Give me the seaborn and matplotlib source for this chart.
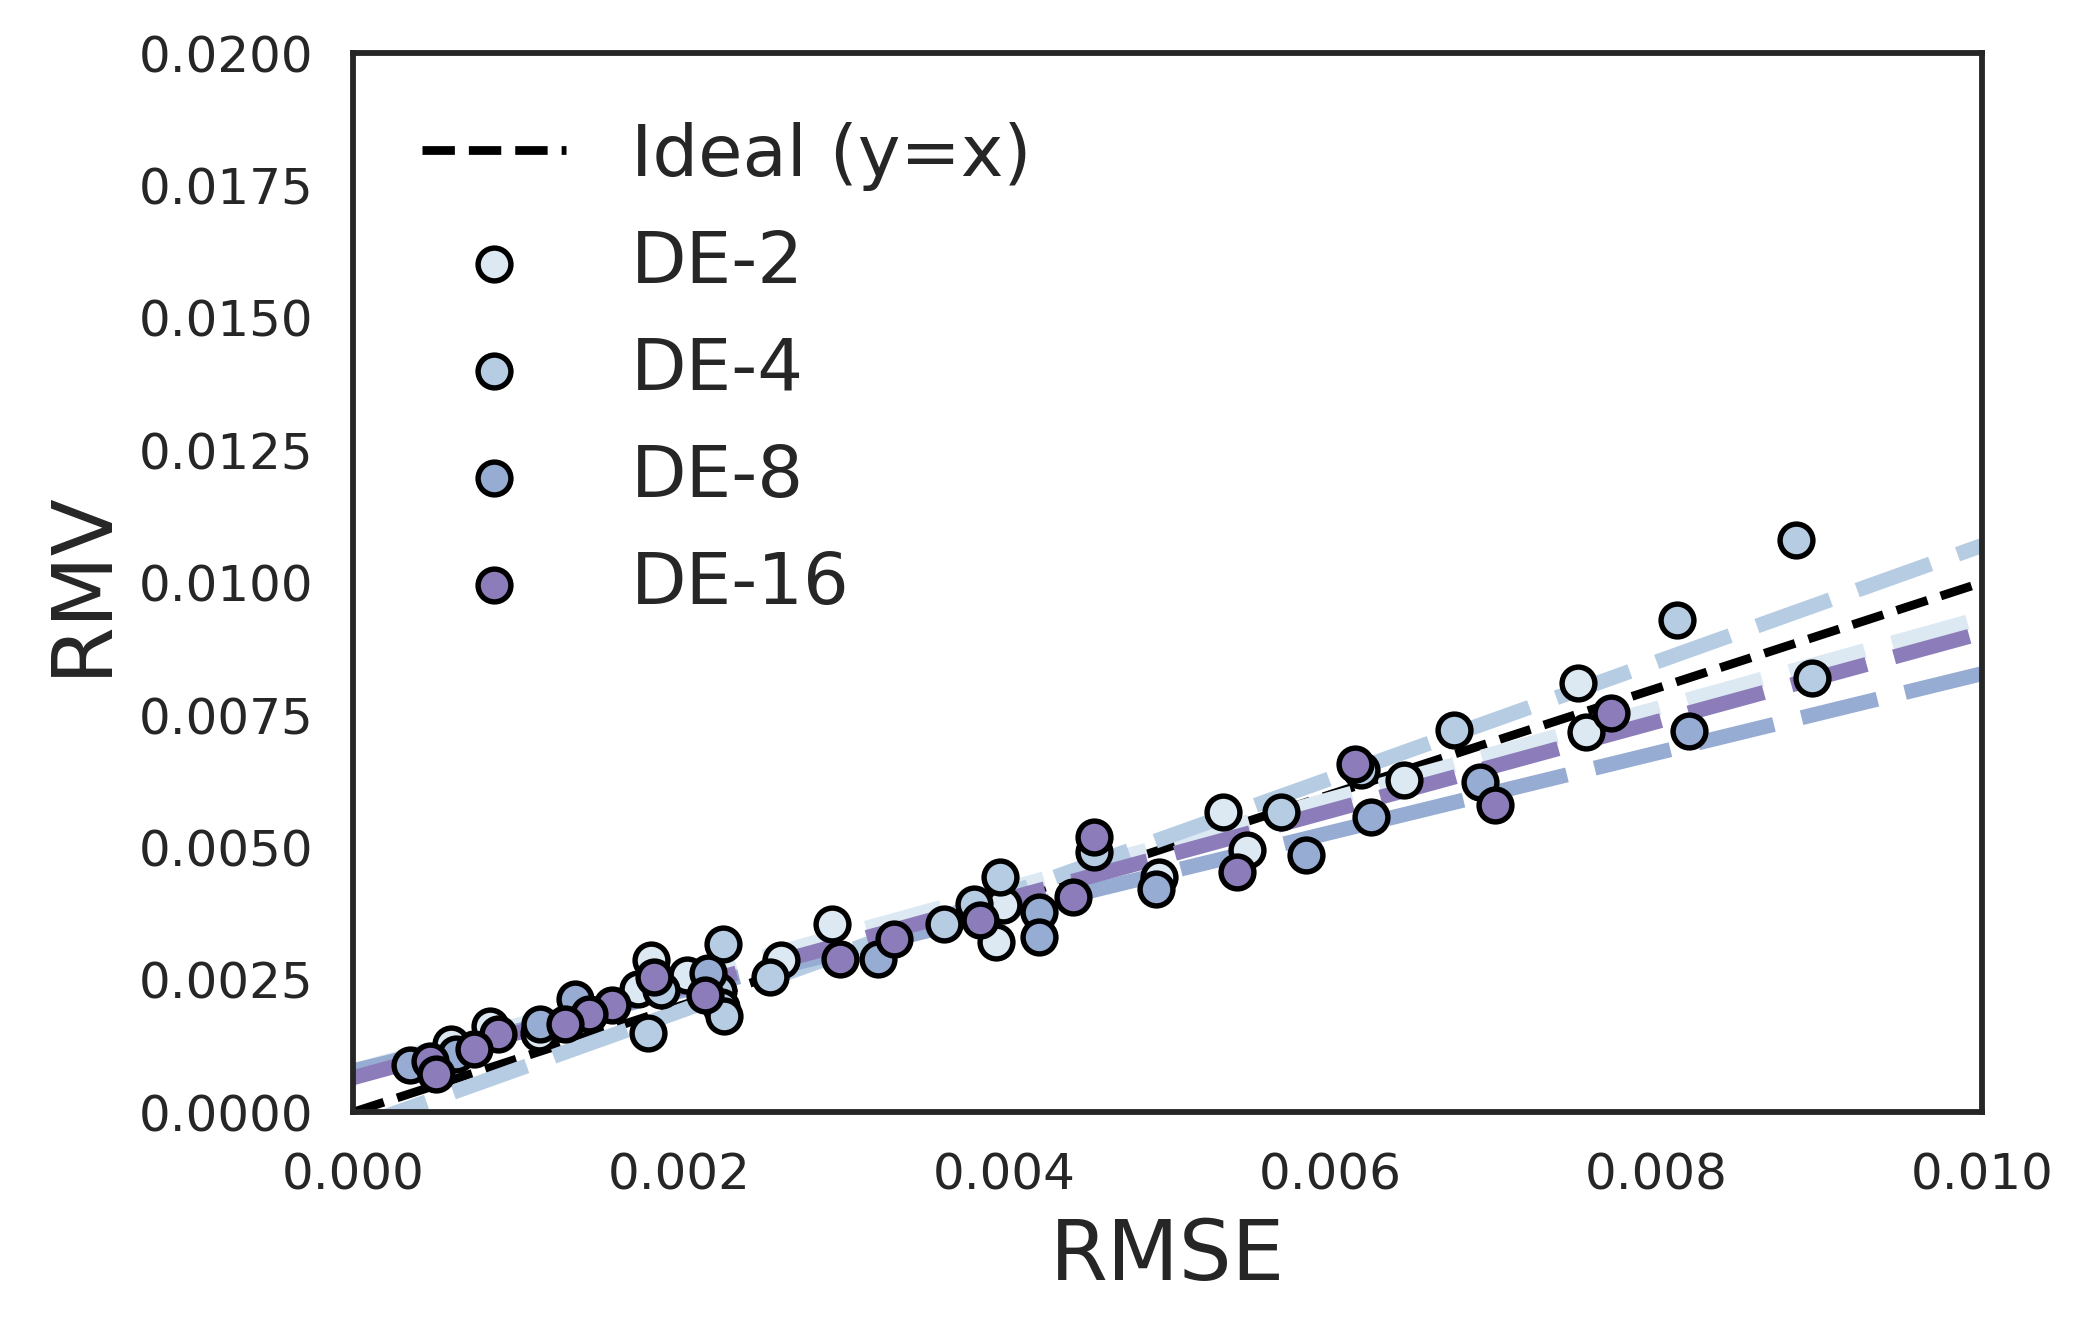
import numpy as np
import pandas as pd
import seaborn as sns
from matplotlib import pyplot as plt

models = ["DE-2", "DE-4", "DE-8", "DE-16"]

de2_rmse = [0.00752, 0.00757, 0.00645, 0.00534, 0.00549, 0.00495, 0.00399, 0.00395,
            0.00294, 0.00263, 0.00183, 0.00175, 0.00205, 0.00114, 0.00084, 0.00060]
de2_rmv = [0.00811, 0.00717, 0.00628, 0.00566, 0.00495, 0.00444, 0.00391, 0.00322,
           0.00356, 0.00288, 0.00288, 0.00233, 0.00260, 0.00149, 0.00162, 0.00128]

de4_rmse = [0.00886, 0.00813, 0.00896, 0.00676, 0.00619, 0.00570, 0.00455, 0.00397,
            0.00381, 0.00363, 0.00227, 0.00256, 0.00189, 0.00181, 0.00224, 0.00226,
            0.00228]
de4_rmv = [0.01080, 0.00929, 0.00820, 0.00721, 0.00647, 0.00566, 0.00491, 0.00444,
           0.00393, 0.00356, 0.00318, 0.00256, 0.00231, 0.00149, 0.00228, 0.00199,
           0.00181]

de8_rmse = [0.00820, 0.00692, 0.00625, 0.00585, 0.00493, 0.00421, 0.00421, 0.00322,
            0.00218, 0.00136, 0.00115, 0.00063, 0.00035]
de8_rmv = [0.00720, 0.00623, 0.00557, 0.00485, 0.00422, 0.00378, 0.00331, 0.00290,
           0.00262, 0.00213, 0.00166, 0.00109, 0.00090]

de16_rmse = [0.00772, 0.00615, 0.00701, 0.00543, 0.00455, 0.00442, 0.00385, 0.00332,
             0.00299, 0.00185, 0.00216, 0.00159, 0.00145, 0.00130, 0.00089, 0.00074,
             0.00047, 0.00051]
de16_rmv = [0.00754, 0.00657, 0.00580, 0.00453, 0.00519, 0.00406, 0.00363, 0.00327,
            0.00290, 0.00256, 0.00222, 0.00203, 0.00186, 0.00167, 0.00147, 0.00119,
            0.00096, 0.00073]

# linear fits shown as thick dashed lines
fit_slopes = [0.855, 1.10, 0.750, 0.840]
fit_intercepts = [0.00078, -0.00030, 0.00078, 0.00065]

df = pd.concat(
    [
        pd.DataFrame({"model": m, "rmse": x, "rmv": y})
        for m, x, y in zip(
            models,
            [de2_rmse, de4_rmse, de8_rmse, de16_rmse],
            [de2_rmv, de4_rmv, de8_rmv, de16_rmv],
        )
    ],
    ignore_index=True,
)

sns.set_theme(style="white")
palette = sns.color_palette("BuPu", 6)[:4]

fig, ax = plt.subplots(figsize=(2084 / 300, 1340 / 300), dpi=300)
fig.subplots_adjust(left=0.1694, right=0.951, top=0.9604, bottom=0.170)

xlim = (0.0, 0.010)
ax.plot(xlim, xlim, color="black", linestyle="--", linewidth=2.1,
        label="Ideal (y=x)", zorder=1)

xs = np.array(xlim)
for color, k, b in zip(palette, fit_slopes, fit_intercepts):
    ax.plot(xs, k * xs + b, color=color, linewidth=3.6, dashes=(5.2, 1.9), zorder=2)

for color, m in zip(palette, models):
    sub = df[df["model"] == m]
    sns.scatterplot(data=sub, x="rmse", y="rmv", color=color, s=62,
                    edgecolor="black", linewidth=1.3, label=m, ax=ax, zorder=3)

ax.set_xlim(*xlim)
ax.set_ylim(0, 0.02)
ax.set_xticks([0, 0.002, 0.004, 0.006, 0.008, 0.010])
ax.set_xticklabels(["0.000", "0.002", "0.004", "0.006", "0.008", "0.010"])
ax.set_yticks(np.arange(0, 0.0201, 0.0025))
ax.set_yticklabels([f"{v:.4f}" for v in np.arange(0, 0.0201, 0.0025)])
ax.tick_params(labelsize=12)
ax.set_xlabel("RMSE", fontsize=20)
ax.set_ylabel("RMV", fontsize=20)
for spine in ax.spines.values():
    spine.set_linewidth(1.4)
    spine.set_color("#262626")

ax.legend(loc="upper left", fontsize=17.3, frameon=False, handletextpad=0.9,
          labelspacing=0.53, borderaxespad=0.55)

fig.savefig("out.png", dpi=300)
